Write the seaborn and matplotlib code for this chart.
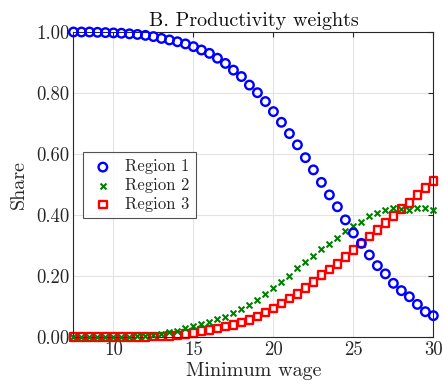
import numpy as np
import pandas as pd
import matplotlib
matplotlib.use("Agg")
import matplotlib.pyplot as plt
import seaborn as sns

wage = [7.5, 8, 8.5, 9, 9.5, 10, 10.5, 11, 11.5, 12, 12.5, 13, 13.5, 14, 14.5,
        15, 15.5, 16, 16.5, 17, 17.5, 18, 18.5, 19, 19.5, 20, 20.5, 21, 21.5, 22,
        22.5, 23, 23.5, 24, 24.5, 25, 25.5, 26, 26.5, 27, 27.5, 28, 28.5, 29, 29.5, 30]

region1 = [1.000, 1.000, 1.000, 0.999, 0.998, 0.997, 0.996, 0.994, 0.992, 0.989,
           0.985, 0.979, 0.974, 0.968, 0.961, 0.952, 0.941, 0.930, 0.914, 0.897,
           0.875, 0.854, 0.826, 0.801, 0.772, 0.739,
           0.704, 0.667, 0.630, 0.588, 0.548, 0.507, 0.466, 0.427, 0.384, 0.341,
           0.307, 0.269, 0.234, 0.207, 0.176, 0.152, 0.132, 0.107, 0.083, 0.070]

region2 = [0.000, 0.000, 0.000, 0.000, 0.001, 0.001, 0.001, 0.001, 0.002, 0.003,
           0.005, 0.010, 0.015, 0.021, 0.028, 0.035, 0.042, 0.050, 0.059, 0.067,
           0.079, 0.091, 0.105, 0.123, 0.140, 0.160, 0.179, 0.200, 0.225, 0.246,
           0.267, 0.288, 0.306, 0.324, 0.348, 0.364, 0.378, 0.396, 0.408, 0.416,
           0.422, 0.421, 0.418, 0.422, 0.424, 0.415]

region3 = [0.000, 0.000, 0.000, 0.000, 0.000, 0.000, 0.000, 0.001, 0.001, 0.001,
           0.002, 0.002, 0.003,
           0.005, 0.009, 0.014, 0.019, 0.023, 0.028, 0.034, 0.039, 0.048, 0.056,
           0.067, 0.080, 0.094,
           0.110, 0.126, 0.141, 0.160, 0.181, 0.203, 0.222, 0.239, 0.263, 0.285,
           0.307, 0.329, 0.351, 0.373, 0.397, 0.419, 0.440, 0.466, 0.488, 0.511]

series_names = ["Region 1", "Region 2", "Region 3"]
x_ticks = [10, 15, 20, 25, 30]
y_ticks = [0.0, 0.2, 0.4, 0.6, 0.8, 1.0]

sns.set_style("white")
plt.rcParams["font.family"] = ["cmr10", "DejaVu Serif"]
plt.rcParams["axes.formatter.use_mathtext"] = True
plt.rcParams["mathtext.fontset"] = "cm"

fig = plt.figure(figsize=(4.44, 3.88), dpi=100)
ax = fig.add_axes([0.1655, 0.1314, 0.8105, 0.7861])

df = pd.DataFrame({"wage": wage, "Region 1": region1,
                   "Region 2": region2, "Region 3": region3})

sns.scatterplot(data=df, x="wage", y="Region 1", ax=ax, marker="o", s=38,
                facecolors="none", edgecolor="#0000ff", linewidth=1.7,
                label=series_names[0], zorder=4)
sns.scatterplot(data=df, x="wage", y="Region 2", ax=ax, marker="x", s=18,
                color="#008000", linewidth=1.5, label=series_names[1], zorder=3)
sns.scatterplot(data=df, x="wage", y="Region 3", ax=ax, marker="s", s=30,
                facecolors="none", edgecolor="#ff0000", linewidth=1.7,
                label=series_names[2], zorder=2)

for c in ax.collections:
    c.set_clip_on(False)

ax.set_xlim(7.5, 30)
ax.set_ylim(0, 1)
ax.set_xticks(x_ticks)
ax.set_yticks(y_ticks)
ax.set_yticklabels([f"{v:.2f}" for v in y_ticks])
ax.set_xticklabels([str(v) for v in x_ticks])

ax.grid(True, color="#e3e3e3", linewidth=0.8)
ax.set_axisbelow(True)
for sp in ax.spines.values():
    sp.set_visible(True)
    sp.set_color("#262626")
    sp.set_linewidth(0.8)
ax.tick_params(direction="in", length=3.5, width=0.8, color="#262626",
               top=True, right=True, labelsize=13.5, labelcolor="#262626", pad=3)

ax.set_xlabel("Minimum wage", fontsize=14.5, color="#262626", labelpad=2)
ax.set_ylabel("Share", fontsize=14.5, color="#262626", labelpad=6)
ax.set_title("B. Productivity weights", fontsize=14.5, color="#111111", pad=4)

leg = ax.legend(loc="upper left", bbox_to_anchor=(0.026, 0.605), fontsize=12,
                frameon=True, fancybox=False, edgecolor="#262626",
                borderpad=0.4, labelspacing=0.2, handletextpad=0.5,
                borderaxespad=0, handlelength=1.6)
leg.get_frame().set_linewidth(0.8)

fig.savefig("out.png", dpi=100, facecolor="white")
